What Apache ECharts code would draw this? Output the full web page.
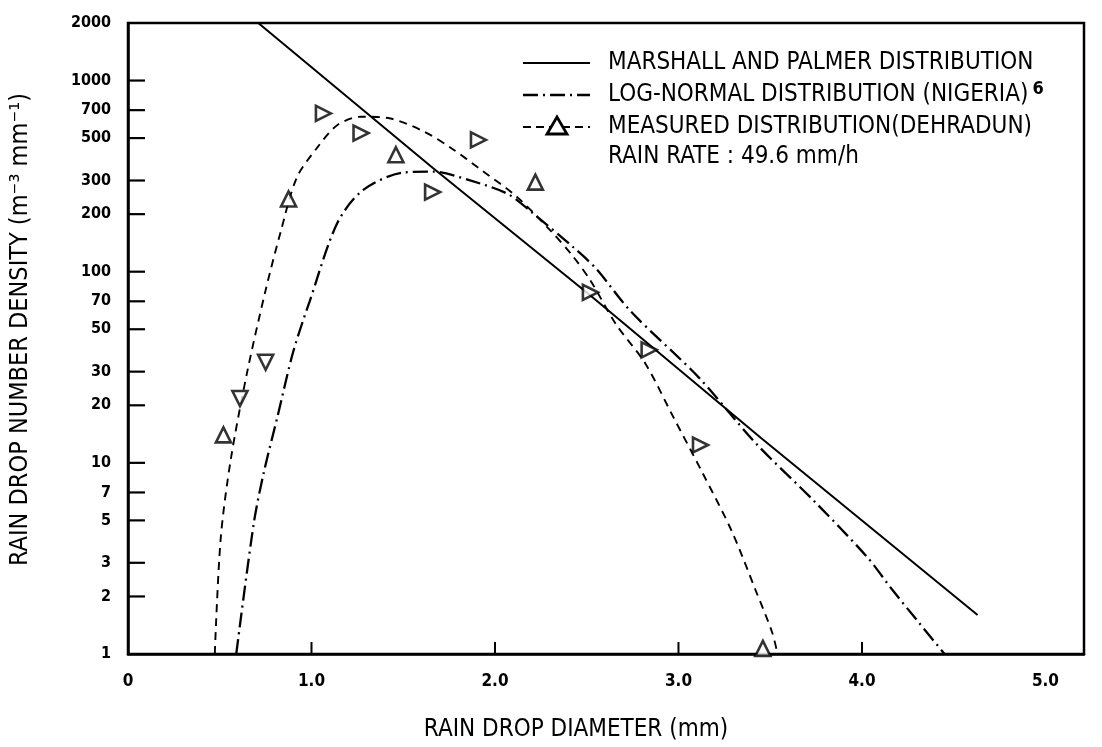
<!DOCTYPE html>
<html>
<head>
<meta charset="utf-8">
<script src="https://cdn.jsdelivr.net/npm/echarts@6/dist/echarts.min.js"></script>
<style>
  html, body { margin: 0; padding: 0; background: #fff; }
  #chart { width: 1102px; height: 747px; }
</style>
</head>
<body>
<div id="chart"></div>
<script>
// Marshall and Palmer distribution (straight line on the log scale)
const mpDiameter = [0.71, 1.66, 2.52, 3.45, 4.63]
const mpDensity = [2000, 350, 75, 13.5, 1.6]

// log-normal distribution (Nigeria)
const lnDiameter = [0.59, 0.685, 0.74, 0.815, 0.90, 0.99, 1.14, 1.28, 1.50, 1.66, 1.86, 2.07, 2.21, 2.42, 2.55, 2.74, 3.11, 3.42, 3.74, 4.03, 4.16, 4.31, 4.45]
const lnDensity = [1, 4.8, 8.9, 17.5, 38, 70, 179, 267, 330, 334, 301, 255, 201, 136, 104, 62, 28, 12.7, 6.3, 3.2, 2.2, 1.46, 1]

// fitted curve through the measured distribution (Dehradun)
const fitDiameter = [0.473, 0.505, 0.56, 0.65, 0.75, 0.83, 0.92, 1.03, 1.14, 1.27, 1.43, 1.61, 1.76, 1.93, 2.12, 2.30, 2.42, 2.52, 2.66, 2.82, 2.97, 3.13, 3.29, 3.42, 3.51, 3.54]
const fitDensity = [1, 4.0, 10.4, 30, 80, 159, 311, 444, 584, 647, 633, 543, 444, 338, 246, 165, 122, 90, 53, 33, 17.5, 8.9, 4.4, 2.16, 1.3, 1]

// measured points
const pointDiameter = [0.52, 0.61, 0.75, 0.875, 1.065, 1.27, 1.46, 1.66, 1.91, 2.22, 2.52, 2.84, 3.12, 3.46]
const pointDensity = [14, 21.7, 33.6, 240, 673, 531, 409, 261, 489, 294, 78, 39, 12.4, 1.07]
// hand drawn triangles point different ways
const pointTurn = [0, 180, 180, 0, -90, -90, 0, -90, -90, 0, -90, -90, -90, 0]

const xTickValues = [1, 2, 3, 4]
const yTickValues = [1, 2, 3, 5, 7, 10, 20, 30, 50, 70, 100, 200, 300, 500, 700, 1000, 2000]

const legendNames = [
  'MARSHALL AND PALMER DISTRIBUTION',
  'LOG-NORMAL DISTRIBUTION (NIGERIA)',
  'MEASURED DISTRIBUTION(DEHRADUN)',
  'RAIN RATE : 49.6 mm/h'
]

const FONT = "'DejaVu Sans Condensed', 'Liberation Sans Narrow', 'DejaVu Sans', sans-serif"
const INK = '#000'

function pairs(xs, ys) {
  return xs.map((x, i) => [x, ys[i]])
}

const chart = echarts.init(document.getElementById('chart'), null, { renderer: 'canvas' })

chart.setOption({
  animation: false,
  backgroundColor: '#fff',
  grid: {
    left: 126,
    right: 18,
    top: 23,
    bottom: 82,
    show: true,
    borderColor: INK,
    borderWidth: 2.5
  },
  xAxis: {
    type: 'value',
    min: 0,
    max: 5.21,
    interval: 1,
    name: 'RAIN DROP DIAMETER (mm)',
    nameLocation: 'middle',
    nameGap: 64,
    nameTextStyle: { fontFamily: FONT, fontSize: 24, color: INK, padding: [0, 60, 0, 0] },
    axisLine: { show: true, lineStyle: { color: INK, width: 2.5 } },
    axisTick: { show: false },
    splitLine: { show: false },
    axisLabel: {
      margin: 19,
      fontFamily: FONT,
      fontWeight: 'bold',
      fontSize: 17,
      color: INK,
      formatter: v => (v === 0 ? '0' : v > 5.05 ? '' : v.toFixed(1))
    }
  },
  yAxis: {
    type: 'log',
    logBase: 10,
    min: 1,
    max: 2000,
    name: 'RAIN DROP NUMBER DENSITY (m⁻³ mm⁻¹)',
    nameLocation: 'middle',
    nameRotate: 90,
    nameGap: 95,
    nameTextStyle: { fontFamily: FONT, fontSize: 25, color: INK, padding: [0, 0, 0, 18] },
    axisLine: { show: true, lineStyle: { color: INK, width: 2.5 } },
    axisTick: { show: false },
    axisLabel: { show: false },
    splitLine: { show: false }
  },
  series: [
    {
      name: legendNames[0],
      type: 'line',
      data: pairs(mpDiameter, mpDensity),
      showSymbol: false,
      lineStyle: { color: INK, width: 2 }
    },
    {
      name: legendNames[1],
      type: 'line',
      data: pairs(lnDiameter, lnDensity),
      showSymbol: false,
      smooth: 0.3,
      lineStyle: { color: INK, width: 2.3, type: [15, 5, 2, 5] }
    },
    {
      name: legendNames[2],
      type: 'line',
      data: pairs(fitDiameter, fitDensity),
      showSymbol: false,
      smooth: 0.3,
      lineStyle: { color: INK, width: 1.9, type: [8, 6] }
    },
    {
      name: 'measured points',
      type: 'scatter',
      data: pointDiameter.map((x, i) => ({ value: [x, pointDensity[i]], symbolRotate: pointTurn[i] })),
      symbol: 'triangle',
      symbolSize: 15,
      itemStyle: { color: '#fff', borderColor: INK, borderWidth: 2.6 },
      z: 5
    }
  ]
})

// ticks and labels of the log axis, plus inward ticks on the x axis
const axisX = chart.convertToPixel({ xAxisIndex: 0 }, 0)
const axisY = chart.convertToPixel({ yAxisIndex: 0 }, 1)

const tickGraphics = []
yTickValues.forEach(v => {
  const py = chart.convertToPixel({ yAxisIndex: 0 }, v)
  if (v !== 1 && v !== 2000) {
    tickGraphics.push({
      type: 'line',
      shape: { x1: axisX, y1: py, x2: axisX + 17, y2: py },
      style: { stroke: INK, lineWidth: 2.2 }
    })
  }
  tickGraphics.push({
    type: 'text',
    x: axisX - 17,
    y: py,
    style: {
      text: String(v),
      font: 'bold 16px ' + FONT,
      fill: INK,
      align: 'right',
      textAlign: 'right',
      verticalAlign: 'middle',
      textVerticalAlign: 'middle'
    }
  })
})
xTickValues.forEach(v => {
  const px = chart.convertToPixel({ xAxisIndex: 0 }, v)
  tickGraphics.push({
    type: 'line',
    shape: { x1: px, y1: axisY, x2: px, y2: axisY - 12 },
    style: { stroke: INK, lineWidth: 2 }
  })
})

// legend block, top right
const keyLeft = 523
const keyRight = 590
const keyText = 608
const rowY = [63, 95, 127, 157]
const textStyle = {
  font: '24px ' + FONT,
  fill: INK,
  verticalAlign: 'middle',
  textVerticalAlign: 'middle'
}

const legendGraphics = [
  {
    type: 'line',
    shape: { x1: keyLeft, y1: rowY[0], x2: keyRight, y2: rowY[0] },
    style: { stroke: INK, lineWidth: 2.2 }
  },
  {
    type: 'line',
    shape: { x1: keyLeft, y1: rowY[1], x2: keyRight, y2: rowY[1] },
    style: { stroke: INK, lineWidth: 2.3, lineDash: [15, 5, 2, 5] }
  },
  {
    type: 'line',
    shape: { x1: keyLeft, y1: rowY[2], x2: keyRight, y2: rowY[2] },
    style: { stroke: INK, lineWidth: 2, lineDash: [8, 5] }
  },
  {
    type: 'polygon',
    shape: { points: [[557, rowY[2] - 10], [547, rowY[2] + 7], [567, rowY[2] + 7]] },
    style: { fill: '#fff', stroke: INK, lineWidth: 2.8 },
    z: 10
  },
  { type: 'text', x: keyText, y: rowY[0], style: Object.assign({ text: legendNames[0] }, textStyle) },
  {
    type: 'text',
    x: keyText,
    y: rowY[1],
    style: Object.assign({
      text: '{a|' + legendNames[1] + '}{s|6}',
      rich: {
        a: { font: '24px ' + FONT, fill: INK },
        s: { font: 'bold 18px ' + FONT, fill: INK, padding: [0, 0, 12, 4] }
      }
    }, textStyle)
  },
  { type: 'text', x: keyText, y: rowY[2], style: Object.assign({ text: legendNames[2] }, textStyle) },
  { type: 'text', x: keyText, y: rowY[3], style: Object.assign({ text: legendNames[3] }, textStyle) }
]

chart.setOption({ graphic: tickGraphics.concat(legendGraphics) })
</script>
</body>
</html>
